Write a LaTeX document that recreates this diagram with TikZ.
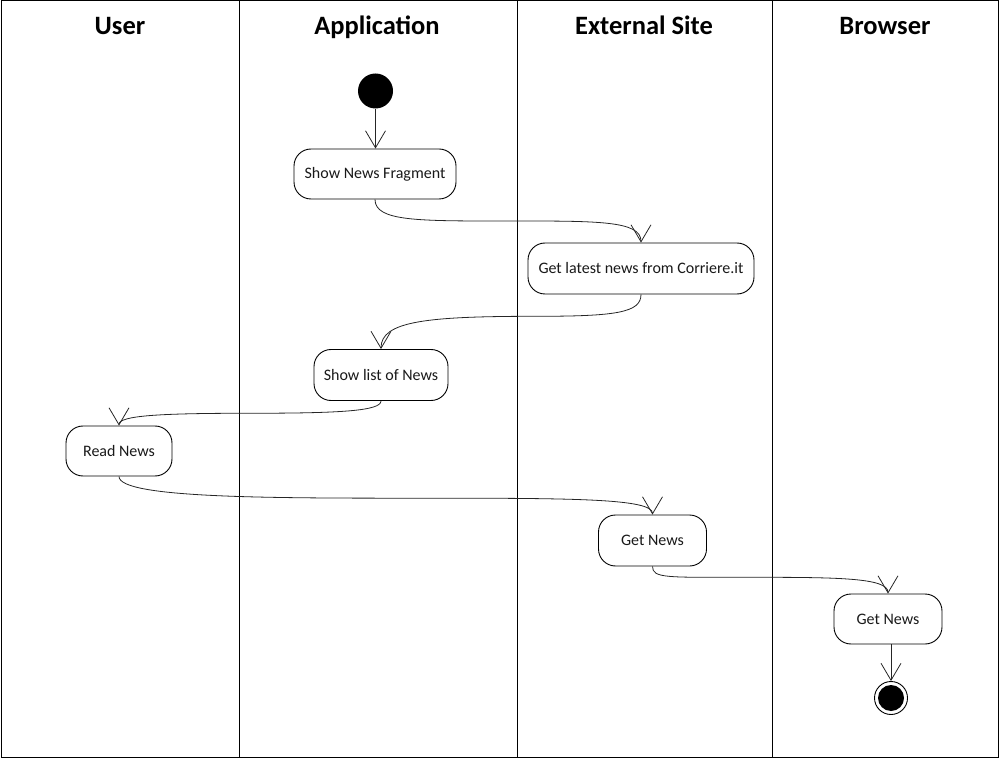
\documentclass[tikz,border=0pt]{standalone}
\usepackage{fontspec}
\setmainfont{Carlito}
\usetikzlibrary{arrows.meta,calc}
\tikzset{
  act/.style={draw, line width=0.9pt, rounded corners=17pt, minimum height=50pt, inner sep=0pt,
    font=\fontsize{16}{19}\selectfont, text=black!90},
  title/.style={font=\fontsize{26.5}{30}\selectfont\bfseries, inner sep=0pt, anchor=base},
  lane/.style={line width=1pt, draw=black},
  flow/.style={line width=0.8pt, draw=black!85, -{Straight Barb[length=17pt,width=20pt,line width=0.8pt]}},
  initstate/.style={circle, fill=black, minimum size=35pt, inner sep=0pt},
  finalstate/.style={circle, draw, line width=0.9pt, fill=white, minimum size=33pt, inner sep=0pt}
}
\begin{document}
\begin{tikzpicture}[x=1pt,y=-1pt]
\useasboundingbox (0,0) rectangle (999,759);
% frame and lanes
\draw[lane] (1,1) rectangle (998,757);
\coordinate (l1t) at (239,1);   \coordinate (l1b) at (239,757);
\coordinate (l2t) at (517,1);   \coordinate (l2b) at (517,757);
\coordinate (l3t) at (772,1);   \coordinate (l3b) at (772,757);
\draw[lane] (l1t) -- (l1b);
\draw[lane] (l2t) -- (l2b);
\draw[lane] (l3t) -- (l3b);
% titles
\node[title] (tUser) at (120,34.5) {User};
\node[title] (tApp) at (377,34.5) {Application};
\node[title] (tExt) at (644,34.5) {External Site};
\node[title] (tBrw) at (885,34.5) {Browser};
% nodes
\node[initstate] (start) at (375.5,91) {};
\node[act, minimum width=162pt] (n1) at (375,174) {Show News Fragment};
\node[act, minimum width=226pt, minimum height=51pt] (n2) at (641,268.5) {Get latest news from Corriere.it};
\node[act, minimum width=134pt, minimum height=51pt] (n3) at (381,375) {Show list of News};
\node[act, minimum width=106pt] (n4) at (119,451) {Read News};
\node[act, minimum width=108pt, minimum height=51pt] (n5) at (652.5,540.5) {Get News};
\node[act, minimum width=108pt] (n6) at (888,619) {Get News};
\node[finalstate] (end) at (891,698) {};
\fill[black] (end.center) circle (13pt);
% connectors
\draw[flow] (start.south) -- (n1.north -| start.south);
\draw[flow] (n1.south) .. controls +(0,22) and +(-90,0) .. ($(n1.south)!0.5!(n2.north)$)
  .. controls +(90,0) and +(0,-22) .. (n2.north);
\draw[flow] (n2.south) .. controls +(0,18) and +(80,0) .. ($(n2.south)!0.4!(n3.north)$)
  .. controls +(-110,0) and +(0,-28) .. (n3.north);
\draw[flow] (n3.south) .. controls +(0,10) and +(90,0) .. ($(n3.south)!0.5!(n4.north)$)
  .. controls +(-90,0) and +(0,-10) .. (n4.north);
\draw[flow] (n4.south) .. controls +(0,22) and +(-150,0) .. ($(n4.south)!0.57!(n5.north)$)
  .. controls +(150,0) and +(0,-16) .. (n5.north);
\draw[flow] (n5.south) .. controls +(0,12) and +(-80,0) .. ($(n5.south)!0.4!(n6.north)$)
  .. controls +(90,0) and +(0,-16) .. (n6.north);
\draw[flow] (n6.south -| end.north) -- (end.north);
\end{tikzpicture}
\end{document}
